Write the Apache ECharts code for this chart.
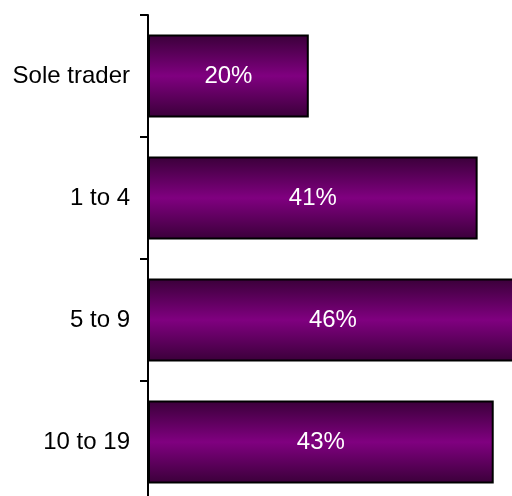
<!DOCTYPE html>
<html>
<head>
<meta charset="utf-8">
<script src="https://cdn.jsdelivr.net/npm/echarts@6/dist/echarts.min.js"></script>
<style>
html, body { margin: 0; padding: 0; background: #ffffff; }
#chart { width: 512px; height: 496px; }
</style>
</head>
<body>
<div id="chart"></div>
<script>
// categories top to bottom and their shares (%)
var categories = ['Sole trader', '1 to 4', '5 to 9', '10 to 19'];
var shares = [20, 41, 46, 43];

var chart = echarts.init(document.getElementById('chart'));

// purple bar, darker at top and bottom edges
var barFill = new echarts.graphic.LinearGradient(0, 0, 0, 1, [
    { offset: 0, color: '#3a0039' },
    { offset: 0.5, color: '#800080' },
    { offset: 1, color: '#3a0039' }
]);

chart.setOption({
    animation: false,
    grid: {
        left: 148,
        top: 15,
        width: 402,
        height: 488,
        containLabel: false,
        outerBoundsMode: 'none'   // plot runs past the right and bottom edges
    },
    xAxis: {
        type: 'value',
        min: 0,
        max: 50,
        show: false
    },
    yAxis: {
        type: 'category',
        data: categories,
        inverse: true,
        axisLine: { show: true, lineStyle: { color: '#000', width: 2 } },
        axisTick: { show: true, length: 8, lineStyle: { color: '#000', width: 2 } },
        axisLabel: {
            color: '#000',
            fontFamily: 'Liberation Sans, Arial, sans-serif',
            fontSize: 24,
            margin: 18
        },
        splitLine: { show: false }
    },
    series: [{
        type: 'bar',
        data: shares,
        barCategoryGap: '32%',
        itemStyle: {
            color: barFill,
            borderColor: '#000',
            borderWidth: 2
        },
        label: {
            show: true,
            position: 'inside',
            color: '#fff',
            fontFamily: 'Liberation Sans, Arial, sans-serif',
            fontSize: 24,
            formatter: '{c}%'
        }
    }]
});
</script>
</body>
</html>
